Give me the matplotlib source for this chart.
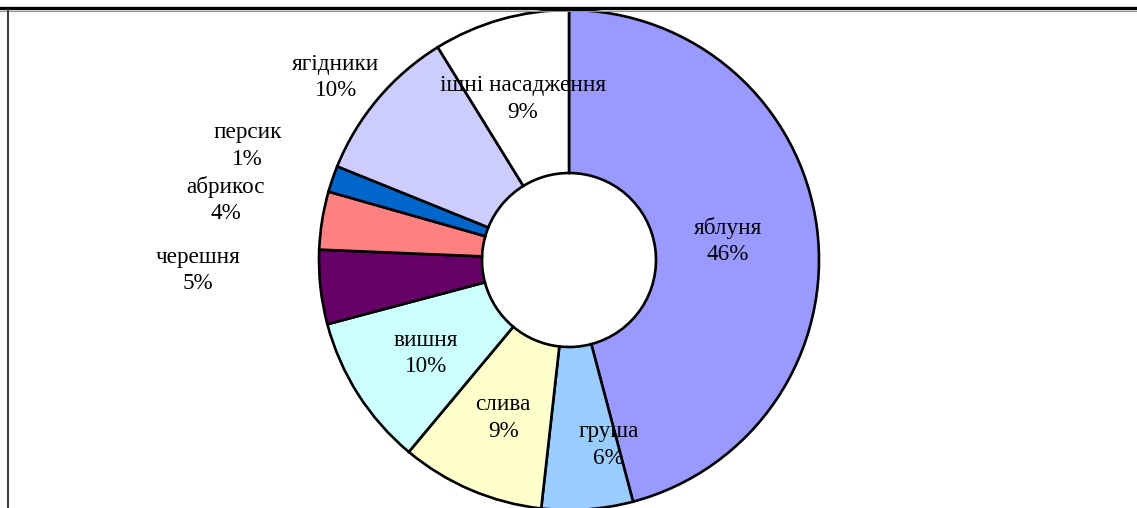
import matplotlib
matplotlib.use("Agg")
import matplotlib.pyplot as plt
import numpy as np
from matplotlib.lines import Line2D

# Data
categories = ["яблуня", "груша", "слива", "вишня", "черешня", "абрикос",
              "персик", "ягідники", "ішні насадження"]
shares = [45.9, 5.9, 9.3, 9.8, 4.8, 3.75, 1.7, 10.1, 8.8]
shown_pct = [46, 6, 9, 10, 5, 4, 1, 10, 9]
colors = ["#9999FF", "#99CCFF", "#FFFFCC", "#CCFFFF", "#660066", "#FF8080",
          "#0066CC", "#CCCCFF", "#FFFFFF"]

# label placement (radius factor, angle nudge in degrees)
label_r = [0.64, 0.756, 0.685, 0.683, 1.484, 1.393, 1.364, 1.185, 0.67]
label_da = [-0.6, 7.8, 0.5, 0.6, -4.6, -0.8, -0.6, 2.1, 0.15]

W, H, DPI = 1137, 508, 100
fig = plt.figure(figsize=(W / DPI, H / DPI), dpi=DPI)
ax = fig.add_axes([0, 0, 1, 1])
cx, cy, R = 569, 260, 250

wedges, _ = ax.pie(shares, colors=colors, startangle=90, counterclock=False,
                   radius=1.0, center=(0, 0), frame=True,
                   wedgeprops=dict(width=0.652, edgecolor="black", linewidth=1.9))
ax.set_xlim(-cx / R, (W - cx) / R)
ax.set_ylim(-(H - cy) / R, cy / R)
ax.set_aspect("auto")
ax.axis("off")

font = dict(family=["Liberation Serif", "DejaVu Serif"], fontsize=16.7, color="black")
for w, name, p, r, da in zip(wedges, categories, shown_pct, label_r, label_da):
    mid = np.deg2rad((w.theta1 + w.theta2) / 2 + da)
    ax.text(r * np.cos(mid), r * np.sin(mid), f"{name}\n{p}%",
            ha="center", va="center", linespacing=1.34, **font)

# frame lines
fig.add_artist(Line2D([0, 1], [1 - 8 / H, 1 - 8 / H], color="black", lw=2.4,
                      transform=fig.transFigure))
fig.add_artist(Line2D([0, 1], [1 - 10.5 / H, 1 - 10.5 / H], color="#909090", lw=0.8,
                      transform=fig.transFigure))
fig.add_artist(Line2D([8 / W, 8 / W], [0, 1 - 10 / H], color="#404040", lw=1.5,
                      transform=fig.transFigure))

fig.savefig("out.png", dpi=DPI)
